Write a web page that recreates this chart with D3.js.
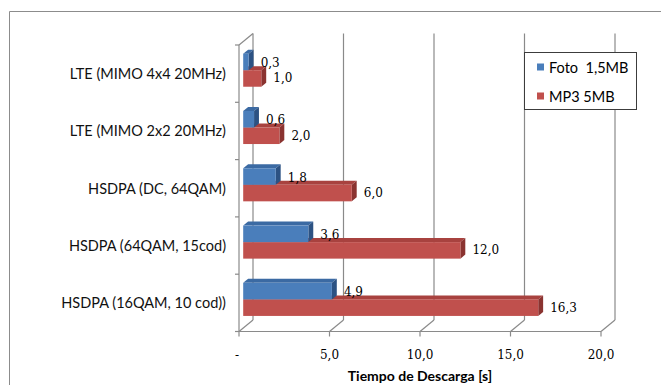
<!DOCTYPE html>
<html>
<head>
<meta charset="utf-8">
<script src="https://cdn.jsdelivr.net/npm/d3@7/dist/d3.min.js"></script>
<style>
  html, body { margin: 0; padding: 0; background: #fff; }
  svg { display: block; }
</style>
</head>
<body>
<svg id="chart" width="661" height="385"></svg>
<script>
// ---- data ----
const categories = [
  "LTE (MIMO 4x4 20MHz)",
  "LTE (MIMO 2x2 20MHz)",
  "HSDPA (DC, 64QAM)",
  "HSDPA (64QAM, 15cod)",
  "HSDPA (16QAM, 10 cod))"
];
const seriesNames = ["Foto  1,5MB", "MP3 5MB"];
const fotoValues = [0.3, 0.6, 1.8, 3.6, 4.9];
const mp3Values = [1.0, 2.0, 6.0, 12.0, 16.3];
const xTicks = [0, 5, 10, 15, 20];
const xTickLabels = ["-", "5,0", "10,0", "15,0", "20,0"];
const axisTitle = "Tiempo de Descarga [s]";

const seriesValues = [fotoValues, mp3Values];
const colors = {
  front: ["#4a7ebb", "#c0504d"],
  top:   ["#3b6aa3", "#a8423f"],
  side:  ["#2c5283", "#8a3330"]
};

const svg = d3.select("#chart");
const fmt = v => v.toFixed(1).replace(".", ",");

// 3D projection parameters
const DX = 14, DY = -11.5;
const D0 = 0.3, D1 = 0.65;

const x = d3.scaleLinear().domain([0, 20]).range([239, 601]);
const yBand = d3.scaleBand().domain(categories).range([45, 331.5])
  .paddingInner(0.423).paddingOuter(0.2115);
const ySub = d3.scaleBand().domain([0, 1]).range([0, yBand.bandwidth()]);
const yStep = d3.scaleBand().domain(categories).range([45, 331.5]); // band boundaries

function P(v, yy, d) { return [x(v) + d * DX, yy + d * DY]; }
const yTop = 45, yBot = 331.5;

// outer chart border
svg.append("path")
  .attr("d", "M9.5,385 L9.5,11.5 L661,11.5")
  .attr("fill", "none").attr("stroke", "#8c8c8c").attr("stroke-width", 1);

const grid = svg.append("g").attr("stroke", "#8a8a8a").attr("fill", "none").attr("stroke-width", 1.2);
// back wall vertical gridlines + floor diagonals
xTicks.forEach(t => {
  const b0 = P(t, yTop, 1), b1 = P(t, yBot, 1), f1 = P(t, yBot, 0);
  grid.append("line").attr("x1", b0[0]).attr("y1", b0[1]).attr("x2", b1[0]).attr("y2", b1[1]);
  grid.append("line").attr("x1", b1[0]).attr("y1", b1[1]).attr("x2", f1[0]).attr("y2", f1[1]);
});
// left wall top diagonal
{
  const a = P(0, yTop, 0), b = P(0, yTop, 1);
  grid.append("line").attr("x1", a[0]).attr("y1", a[1]).attr("x2", b[0]).attr("y2", b[1]);
}
// front-left category axis
grid.append("line").attr("x1", x(0)).attr("y1", yTop).attr("x2", x(0)).attr("y2", yBot);
// front floor edge (value axis)
grid.append("line").attr("x1", x(0)).attr("y1", yBot).attr("x2", x(20)).attr("y2", yBot);
// value ticks
xTicks.forEach(t => {
  grid.append("line").attr("x1", x(t)).attr("y1", yBot).attr("x2", x(t)).attr("y2", yBot + 5);
});
// category ticks
const catBounds = categories.map(c => yStep(c)).concat([yBot]);
catBounds.forEach(yy => {
  grid.append("line").attr("x1", x(0) - 4).attr("y1", yy).attr("x2", x(0)).attr("y2", yy);
});

// bars (draw MP3 first so Foto's front face covers its top)
const bars = svg.append("g");
const order = [1, 0];
categories.forEach((c, ci) => {
  order.forEach(si => {
    const v = seriesValues[si][ci];
    const y0 = yBand(c) + ySub(si);
    const y1 = y0 + ySub.bandwidth();
    const g = bars.append("g");
    const top = [P(0, y0, D0), P(v, y0, D0), P(v, y0, D1), P(0, y0, D1)];
    const side = [P(v, y0, D0), P(v, y0, D1), P(v, y1, D1), P(v, y1, D0)];
    const fa = P(0, y0, D0), fb = P(v, y1, D0);
    g.append("polygon").attr("points", top.map(p => p.join(",")).join(" "))
      .attr("fill", colors.top[si]);
    g.append("polygon").attr("points", side.map(p => p.join(",")).join(" "))
      .attr("fill", colors.side[si]);
    g.append("rect").attr("x", fa[0]).attr("y", fa[1])
      .attr("width", fb[0] - fa[0]).attr("height", fb[1] - fa[1])
      .attr("fill", colors.front[si]);
  });
});

// data labels
const labels = svg.append("g")
  .attr("font-family", "'DejaVu Serif', serif").attr("font-size", 12).attr("fill", "#000");
categories.forEach((c, ci) => {
  [0, 1].forEach(si => {
    const v = seriesValues[si][ci];
    const y0 = yBand(c) + ySub(si);
    const p = P(v, y0 + ySub.bandwidth() / 2, D0);
    labels.append("text")
      .attr("x", p[0] + 12).attr("y", p[1] + (si === 0 ? 1 : 0))
      .attr("dominant-baseline", "central")
      .text(fmt(v));
  });
});

// category labels
svg.append("g").attr("font-family", "Lato, 'Open Sans', sans-serif").attr("font-size", 14.5)
  .attr("fill", "#111").attr("text-anchor", "end")
  .selectAll("text").data(categories).join("text")
  .attr("x", 226).attr("y", d => yStep(d) + yStep.bandwidth() / 2)
  .attr("dominant-baseline", "central")
  .text(d => d);

// value tick labels
svg.append("g").attr("font-family", "'DejaVu Serif', serif").attr("font-size", 12)
  .attr("fill", "#000").attr("text-anchor", "middle")
  .selectAll("text").data(xTicks).join("text")
  .attr("x", d => x(d) - (d === 0 ? 2 : 0)).attr("y", 359)
  .text((d, i) => xTickLabels[i]);

// axis title
svg.append("text").attr("x", 420).attr("y", 381)
  .attr("text-anchor", "middle").attr("font-family", "Lato, sans-serif")
  .attr("font-weight", "bold").attr("font-size", 14).attr("fill", "#000")
  .text(axisTitle);

// legend
const lg = svg.append("g");
lg.append("rect").attr("x", 524.5).attr("y", 52.5).attr("width", 112).attr("height", 57)
  .attr("fill", "#fff").attr("stroke", "#3c3c3c").attr("stroke-width", 1);
seriesNames.forEach((n, i) => {
  const cy = 67 + i * 29;
  lg.append("rect").attr("x", 537).attr("y", cy - 3.5).attr("width", 7).attr("height", 7)
    .attr("fill", colors.front[i]);
  lg.append("text").attr("x", 549).attr("y", cy).attr("dominant-baseline", "central")
    .attr("font-family", "Lato, sans-serif").attr("font-size", 14.5).attr("fill", "#000")
    .style("white-space", "pre")
    .text(n);
});
</script>
</body>
</html>
